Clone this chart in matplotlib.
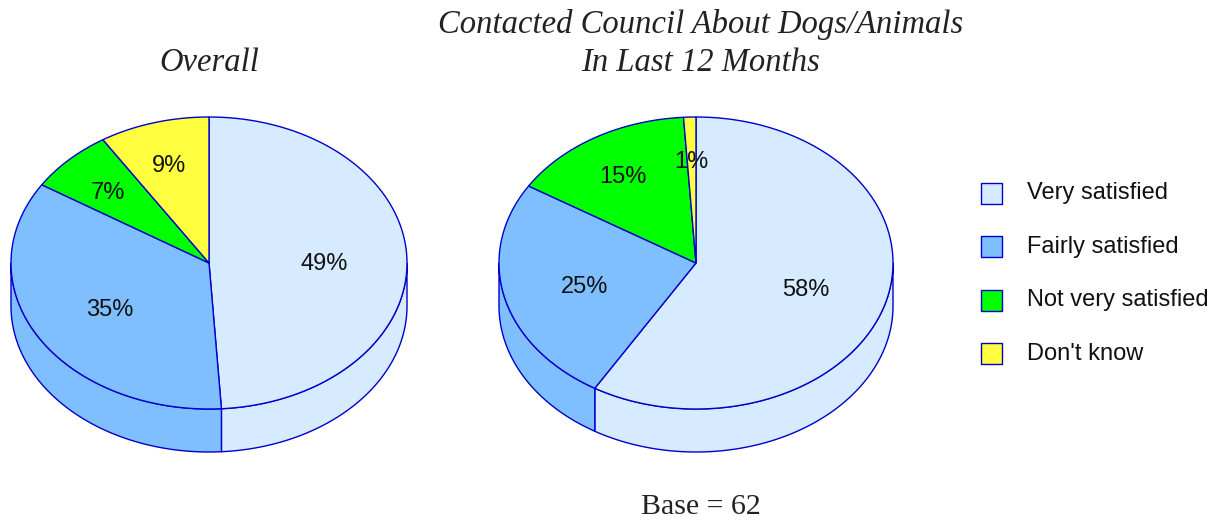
import numpy as np
import matplotlib
matplotlib.use("Agg")
import matplotlib.pyplot as plt
from matplotlib.patches import Polygon, Rectangle

categories = ["Very satisfied", "Fairly satisfied", "Not very satisfied", "Don't know"]
overall = [49, 35, 7, 9]
contacted = [58, 25, 15, 1]
base_n = 62

colors = ["#d6ebff", "#80bfff", "#00ff00", "#ffff40"]
edge = "#0000cc"


def ellipse_pts(cx, cy, rx, ry, t0, t1, n=200):
    # angles measured clockwise from 12 o'clock, y axis points down
    t = np.radians(np.linspace(t0, t1, n))
    return np.column_stack([cx + rx * np.sin(t), cy - ry * np.cos(t)])


def pie3d(ax, values, cx, cy, rx=198, ry=146, depth=43):
    vals = np.array(values, dtype=float)
    fracs = vals / vals.sum()
    bounds = np.concatenate([[0], np.cumsum(fracs) * 360])

    # side walls (only the front half shows)
    for i in range(len(vals)):
        lo = max(bounds[i], 90)
        hi = min(bounds[i + 1], 270)
        if hi <= lo:
            continue
        top = ellipse_pts(cx, cy, rx, ry, lo, hi)
        bot = top[::-1] + [0, depth]
        ax.add_patch(Polygon(np.vstack([top, bot]), closed=True,
                             facecolor=colors[i], edgecolor=edge, lw=1, zorder=1))

    # top face
    for i in range(len(vals)):
        arc = ellipse_pts(cx, cy, rx, ry, bounds[i], bounds[i + 1])
        pts = np.vstack([[cx, cy], arc])
        ax.add_patch(Polygon(pts, closed=True, facecolor=colors[i],
                             edgecolor=edge, lw=1, zorder=2))

    # percentage labels
    for i, v in enumerate(values):
        mid = np.radians((bounds[i] + bounds[i + 1]) / 2)
        r = 0.58 if fracs[i] >= 0.2 else 0.72
        x = cx + r * rx * np.sin(mid)
        y = cy - r * ry * np.cos(mid) + 4
        ax.text(x, y, f"{v}%", ha="center", va="center", fontsize=17,
                family="Liberation Sans", color="#111111", zorder=3)


fig = plt.figure(figsize=(12.21, 5.23), dpi=100)
ax = fig.add_axes([0, 0, 1, 1])
ax.set_xlim(0, 1221)
ax.set_ylim(523, 0)
ax.axis("off")

pie3d(ax, overall, 209, 263)
pie3d(ax, contacted, 696, 263, rx=197)

title_font = dict(family="Liberation Serif", style="italic", fontsize=23.5, color="#222222")
ax.text(209, 63, "Overall", ha="center", va="center", **title_font)
ax.text(701, 25, "Contacted Council About Dogs/Animals", ha="center", va="center",
        **title_font)
ax.text(701, 63, "In Last 12 Months", ha="center", va="center", **title_font)

ax.text(701, 507, f"Base = {base_n}", ha="center", va="center",
        family="Liberation Serif", fontsize=21.5, color="#222222")

# legend
for i, name in enumerate(categories):
    y = 193 + i * 53.5
    ax.add_patch(Rectangle((981, y - 10.5), 21, 21, facecolor=colors[i],
                           edgecolor=edge, lw=1))
    ax.text(1027, y, name, ha="left", va="center", fontsize=17,
            family="Liberation Sans", color="#111111")

fig.savefig("out.png", dpi=100)
